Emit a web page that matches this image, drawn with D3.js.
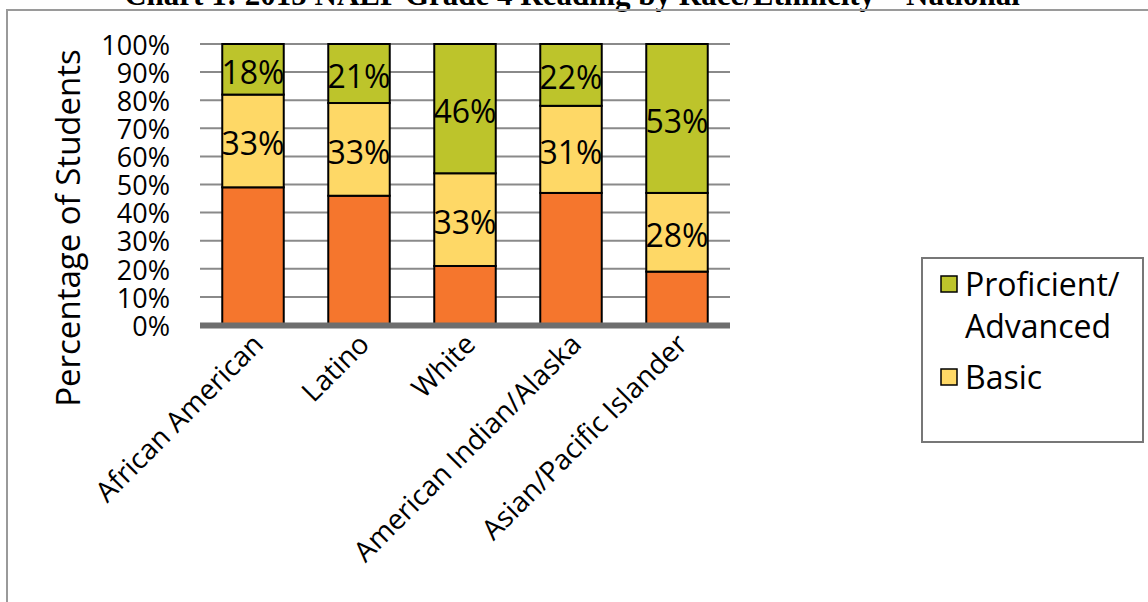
<!DOCTYPE html>
<html lang="en">
<head>
  <meta charset="utf-8">
  <title>NAEP Grade 4 Reading</title>
  <script src="https://d3js.org/d3.v7.min.js"></script>
  <style>
  body { margin: 0; background: #fff; }
  text { font-family: "Open Sans", sans-serif; fill: #000; }
  </style>
</head>
<body>
  <script>
  // values (percent of students)
  var categories = ["African American", "Latino", "White", "American Indian/Alaska", "Asian/Pacific Islander"];
  var belowBasic = [49, 46, 21, 47, 19];
  var basic = [33, 33, 33, 31, 28];
  var proficient = [18, 21, 46, 22, 53];
  var yTicks = [0, 10, 20, 30, 40, 50, 60, 70, 80, 90, 100];
  var seriesNames = ["Below Basic", "Basic", "Proficient/Advanced"];
  var colors = ["#f5762d", "#fed866", "#bdc42b"];

  var width = 1148, height = 602;
  var svg = d3.select("body").append("svg")
    .attr("width", width)
    .attr("height", height);

  // frame + title (title mostly cut off at top)
  svg.append("text")
    .attr("x", 572).attr("y", 5)
    .attr("text-anchor", "middle")
    .style("font-family", "'Liberation Serif', serif")
    .style("font-weight", "bold")
    .style("font-size", "31px")
    .text("Chart 1: 2015 NAEP Grade 4 Reading by Race/Ethnicity \u2013 National");

  svg.append("path")
    .attr("d", "M7,610 V10 H1160")
    .attr("fill", "none")
    .attr("stroke", "#9a9a9a")
    .attr("stroke-width", 2);

  var x = d3.scaleBand()
    .domain(categories)
    .range([200, 730])
    .paddingInner(0.42)
    .paddingOuter(0.21);

  var y = d3.scaleLinear()
    .domain([0, 100])
    .range([325, 44]);

  // gridlines
  svg.append("g").selectAll("line")
    .data(yTicks.filter(function(d){ return d > 0; }))
    .enter().append("line")
    .attr("x1", 200).attr("x2", 730)
    .attr("y1", function(d){ return y(d); })
    .attr("y2", function(d){ return y(d); })
    .attr("stroke", "#8a8a8a")
    .attr("stroke-width", 2);

  // y axis labels
  var yAxis = d3.axisLeft(y)
    .tickValues(yTicks)
    .tickFormat(function(d){ return d + "%"; })
    .tickSize(0)
    .tickPadding(0);
  var yg = svg.append("g").attr("transform", "translate(170,0)").call(yAxis);
  yg.select(".domain").remove();
  yg.selectAll("text")
    .style("font-family", "'Open Sans', sans-serif")
    .style("font-size", "27px")
    .attr("dy", "0.38em");

  svg.append("text")
    .attr("transform", "translate(80,228) rotate(-90)")
    .attr("text-anchor", "middle")
    .style("font-size", "33px")
    .text("Percentage of Students");

  // stacked bars
  var rows = categories.map(function(c, i){
    return {cat: c, "Below Basic": belowBasic[i], "Basic": basic[i], "Proficient/Advanced": proficient[i]};
  });
  var stack = d3.stack().keys(seriesNames)(rows);

  var layers = svg.append("g").selectAll("g")
    .data(stack)
    .enter().append("g")
    .attr("fill", function(d, i){ return colors[i]; });

  layers.selectAll("rect")
    .data(function(d){ return d; })
    .enter().append("rect")
    .attr("x", function(d){ return x(d.data.cat); })
    .attr("width", x.bandwidth())
    .attr("y", function(d){ return y(d[1]); })
    .attr("height", function(d){ return y(d[0]) - y(d[1]); })
    .attr("stroke", "#000")
    .attr("stroke-width", 2);

  // segment labels (not on the bottom series)
  layers.filter(function(d, i){ return i > 0; })
    .selectAll("text")
    .data(function(d){ return d; })
    .enter().append("text")
    .attr("x", function(d){ return x(d.data.cat) + x.bandwidth() / 2; })
    .attr("y", function(d){ return y((d[0] + d[1]) / 2); })
    .attr("dy", "0.45em")
    .attr("text-anchor", "middle")
    .style("font-size", "32px")
    .text(function(d){ return (d[1] - d[0]) + "%"; });

  // base axis line
  svg.append("line")
    .attr("x1", 200).attr("x2", 730)
    .attr("y1", y(0) + 0.5).attr("y2", y(0) + 0.5)
    .attr("stroke", "#6e6e6e")
    .attr("stroke-width", 6);

  // category labels
  svg.append("g").selectAll("text")
    .data(categories)
    .enter().append("text")
    .attr("transform", function(d){
      return "translate(" + (x(d) + x.bandwidth() / 2 + 12) + ",346) rotate(-45)";
    })
    .attr("text-anchor", "end")
    .style("font-size", "28px")
    .text(function(d){ return d; });

  // legend (only two entries visible)
  var legend = svg.append("g");
  legend.append("rect")
    .attr("x", 922).attr("y", 258)
    .attr("width", 221).attr("height", 184)
    .attr("fill", "#fff")
    .attr("stroke", "#777")
    .attr("stroke-width", 2);

  var legendItems = [
    {lines: ["Proficient/", "Advanced"], color: colors[2], y: 284},
    {lines: ["Basic"], color: colors[1], y: 377}
  ];
  var li = legend.selectAll("g.item")
    .data(legendItems)
    .enter().append("g").attr("class", "item");
  li.append("rect")
    .attr("x", 941).attr("y", function(d){ return d.y - 8; })
    .attr("width", 16).attr("height", 16)
    .attr("fill", function(d){ return d.color; })
    .attr("stroke", "#000")
    .attr("stroke-width", 1.5);
  li.each(function(d){
    var g = d3.select(this);
    d.lines.forEach(function(t, k){
      g.append("text")
        .attr("x", 965)
        .attr("y", d.y + k * 42)
        .attr("dy", "0.36em")
        .style("font-size", "32px")
        .text(t);
    });
  });
  </script>
</body>
</html>
